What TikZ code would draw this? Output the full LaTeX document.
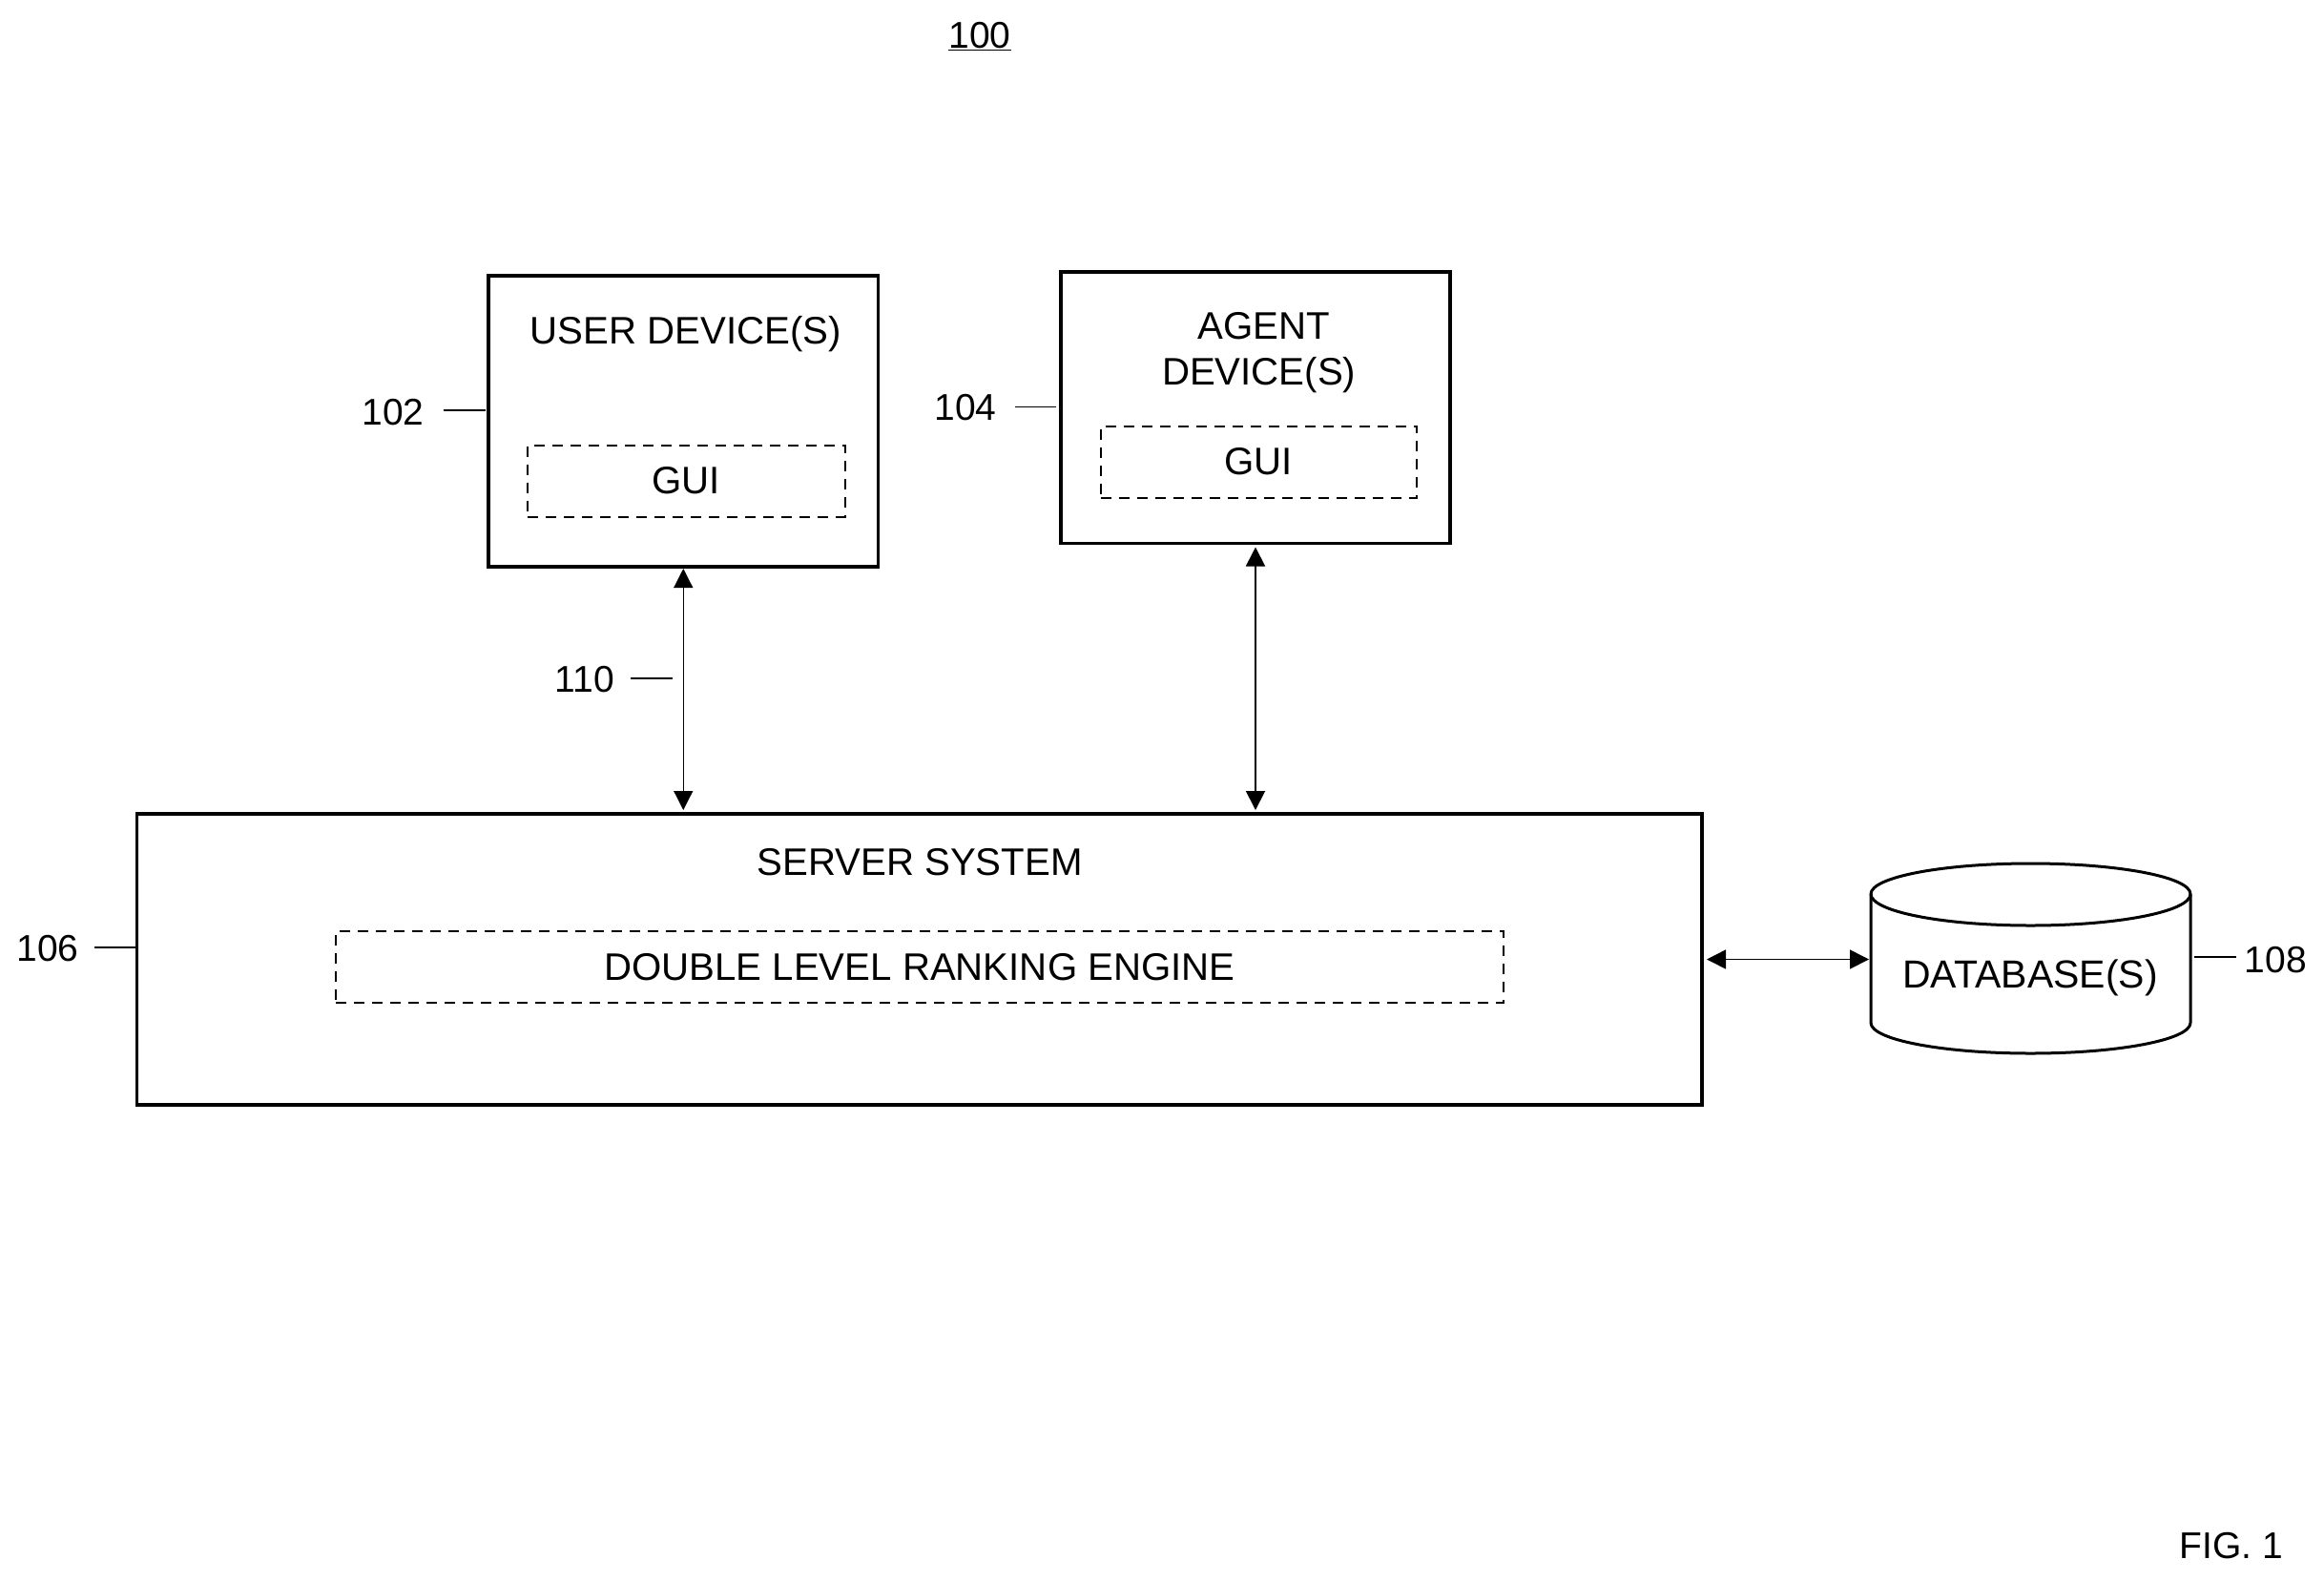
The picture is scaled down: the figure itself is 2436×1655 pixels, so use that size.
\documentclass[tikz,border=0pt]{standalone}
\usepackage{fontspec}
\setmainfont{Liberation Sans}
\usetikzlibrary{arrows.meta,calc}
\tikzset{
  x=1pt,y=1pt,
  every node/.style={inner sep=0pt,outer sep=0pt,font=\fontsize{39}{46}\selectfont,text=black},
  solidbox/.style={draw=black,line width=3.2pt,minimum width=#1},
  dashbox/.style={draw=black,line width=2pt,dash pattern=on 11pt off 8pt},
  tag/.style={anchor=base},
  caps/.style={font=\fontsize{40.2}{46}\selectfont},
  leader/.style={draw=black,line width=1.8pt},
  link/.style={draw=black,line width=#1,{Triangle[length=20pt,width=20pt]}-{Triangle[length=20pt,width=20pt]}},
}
\begin{document}
\begin{tikzpicture}
\useasboundingbox (0,0) rectangle (2436,-1655);
% boxes
\node[solidbox=408.5pt,minimum height=305pt] (user) at (716.25,-441.5) {};
\node[solidbox=408pt,minimum height=284.5pt] (agent) at (1316,-427.25) {};
\node[solidbox=1640.5pt,minimum height=305pt] (server) at (963.75,-1005.5) {};
\node[dashbox,caps,minimum width=332.5pt,minimum height=75pt] (gui1) at (719.25,-504) {GUI};
\node[dashbox,caps,minimum width=331.5pt,minimum height=75pt] (gui2) at (1319.25,-484) {GUI};
\node[dashbox,caps,minimum width=1224pt,minimum height=75pt] (engine) at (964,-1013.5) {\raisebox{-1.5pt}{DOUBLE LEVEL RANKING ENGINE}};
% box titles
\node[tag,caps] (usertitle) at (719,-360) {USER DEVICE(S)};
\node[tag,caps] (agenttitle1) at (1325,-355) {AGENT};
\node[tag,caps] (agenttitle2) at (1319.7,-403) {DEVICE(S)};
\node[tag,caps] (servertitle) at (964,-917) {SERVER SYSTEM};
% database
\node[minimum width=335pt,minimum height=199pt] (db) at (2128.5,-1004.5) {};
\draw[line width=3pt,line join=round] (db.west |- 0,-937)
  arc[start angle=180,end angle=0,x radius=167.5,y radius=32]
  -- (db.east |- 0,-1072)
  arc[start angle=360,end angle=180,x radius=167.5,y radius=32]
  -- cycle;
\draw[line width=3pt] (db.west |- 0,-937)
  arc[start angle=180,end angle=360,x radius=167.5,y radius=33];
\node[tag,font=\fontsize{41}{46}\selectfont] (dbtitle) at (2128,-1035) {DATABASE(S)};
% connectors
\draw[link=1.2pt,shorten <=2pt,shorten >=4pt] (user.south) -- (user.south |- server.north);
\draw[link=1.8pt,shorten <=4pt,shorten >=4pt] (agent.south) -- (agent.south |- server.north);
\draw[link=1.6pt,shorten <=5pt,shorten >=2pt] (server.east) -- (server.east -| db.west);
% reference numerals
\node[tag] (n100) at (1027,-50) {\underline{100}};
\node[tag] (n102) at (412,-445.5) {102};
\node[tag] (n104) at (1012,-440) {104};
\node[tag] (n106) at (50,-1007) {106};
\node[tag] (n108) at (2385.5,-1019) {108};
\node[tag] (n110) at (613,-725) {110};
\node[tag] (fig) at (2339,-1633) {FIG. 1};
% leaders
\coordinate (c102) at (464.5,-430);
\coordinate (c104) at (1064,-426.5);
\coordinate (c106) at (99,-993);
\coordinate (c108) at (2344,-1003);
\coordinate (c110) at (661,-711);
\coordinate (e110) at (704.5,-711);
\draw[leader,shorten >=3pt] (c102) -- (c102 -| user.west);
\draw[leader,shorten >=5pt] (c104) -- (c104 -| agent.west);
\draw[leader] (c106) -- (c106 -| server.west);
\draw[leader,shorten >=4pt] (c108) -- (c108 -| db.east);
\draw[leader] (c110) -- (e110);
\end{tikzpicture}
\end{document}
